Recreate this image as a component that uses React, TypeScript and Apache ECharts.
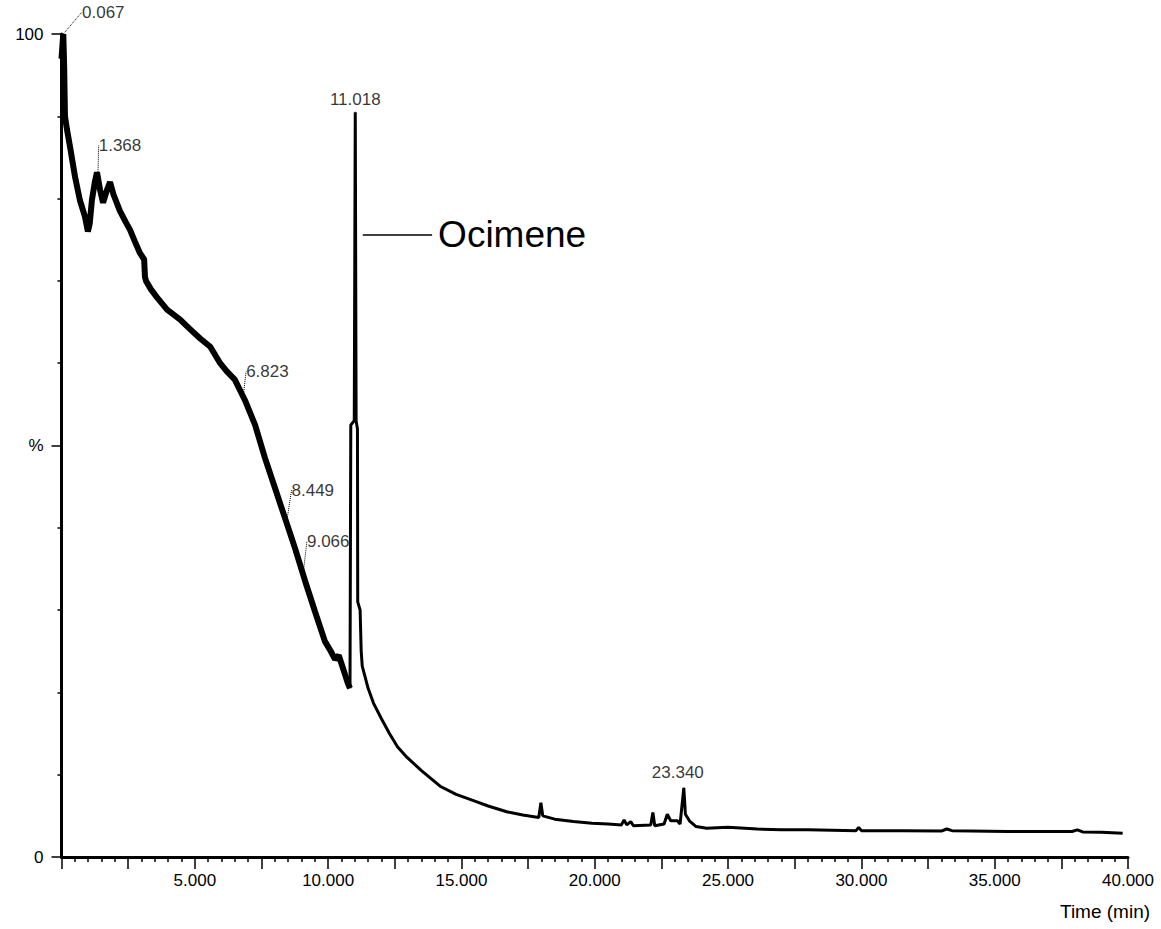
import React, { useEffect, useRef } from "react";
import * as echarts from "echarts";

// Chromatogram trace, early noisy part (time in min, intensity in %)
const earlyTime = [0, 0.067, 0.1, 0.13, 0.2, 0.32, 0.51, 0.69, 0.88, 0.99, 1.06, 1.14, 1.25, 1.33, 1.45, 1.56, 1.7, 1.82, 1.95, 2.19, 2.4, 2.57, 2.75, 2.94, 3.1, 3.13, 3.17, 3.35, 3.58, 3.96, 4.45, 4.8, 5.2, 5.58, 5.95, 6.2, 6.5, 6.88, 7.26, 7.63, 8.01, 8.38, 8.76, 9.13, 9.51, 9.88, 10.1, 10.26, 10.4, 10.52, 10.65, 10.74, 10.82];
const earlyPct = [97, 100, 96, 90, 88.5, 86.3, 82.6, 79.8, 77.8, 76, 77, 79.8, 82, 83.2, 81, 79.5, 81, 82, 80.5, 78.5, 77.2, 76.2, 74.8, 73.4, 72.6, 70.5, 70, 69, 68, 66.5, 65.3, 64.2, 63, 62, 60, 59, 58, 55.5, 52.5, 48.5, 44.8, 41.2, 37.5, 33.6, 29.8, 26.2, 25, 24, 24.5, 23.3, 22, 21.1, 20.5];

// Later part of the trace, from the ocimene peak to the end
const lateTime = [10.82, 10.85, 10.98, 11.018, 11.05, 11.1, 11.11, 11.2, 11.24, 11.28, 11.5, 11.7, 12.0, 12.3, 12.6, 12.96, 13.5, 14.2, 14.8, 15.4, 16.0, 16.7, 17.3, 17.9, 17.98, 18.05, 18.5, 19.2, 19.9, 20.5, 21.0, 21.1, 21.2, 21.35, 21.45, 22.1, 22.18, 22.25, 22.6, 22.72, 22.85, 23.1, 23.2, 23.34, 23.4, 23.55, 23.8, 24.2, 25.0, 26.1, 27.0, 28.0, 29.8, 29.9, 30.0, 31.5, 33.0, 33.2, 33.4, 35.5, 37.9, 38.1, 38.3, 39.0, 39.8];
const latePct = [20.5, 52.5, 53, 90.5, 53, 52, 31, 30, 25, 23.2, 20.5, 18.7, 16.8, 15, 13.4, 12.1, 10.5, 8.6, 7.6, 6.9, 6.2, 5.5, 5.1, 4.8, 6.6, 5.0, 4.6, 4.3, 4.1, 4.0, 3.9, 4.5, 3.9, 4.3, 3.8, 3.9, 5.4, 3.8, 4.0, 5.2, 4.4, 4.4, 4.0, 8.4, 5.2, 4.4, 3.7, 3.5, 3.6, 3.4, 3.3, 3.3, 3.2, 3.6, 3.2, 3.2, 3.15, 3.4, 3.2, 3.1, 3.1, 3.3, 3.05, 3.0, 2.9];

// Peak annotations with leader lines
const leaderPeakTimes = [0.067, 1.368, 6.823, 8.449, 9.066];
const leaderPeakHeights = [100, 83.2, 56.2, 40.8, 34.5];
const leaderPeakLabels = ["0.067", "1.368", "6.823", "8.449", "9.066"];

// Peak annotations without leader lines
const plainPeakTimes = [11.018, 23.34];
const plainPeakHeights = [90.5, 8.4];
const plainPeakLabels = ["11.018", "23.340"];

// Compound annotation
const compoundName = "Ocimene";
const compoundLineFrom = 11.3;
const compoundLineTo = 13.9;
const compoundLineLevel = 75.6;

// Axis ticks
const xTickLabels = ["5.000", "10.000", "15.000", "20.000", "25.000", "30.000", "35.000", "40.000"];
const yTickLabels: Record<number, string> = { 0: "0", 50: "%", 100: "100" };

// Layout (pixel shifts for the annotation labels)
const leaderShift = [[40, -22], [22, -27], [24, -23], [26, -31], [25, -32]];
const plainShift = [[0, -13], [-6, -15]];

const FONT = "'Liberation Sans', Arial, sans-serif";

export default function App() {
  const ref = useRef<HTMLDivElement>(null);
  useEffect(() => {
    if (!ref.current) return;
    const chart = echarts.init(ref.current, null, { renderer: "svg" });
    const early = earlyTime.map((t, i) => [t, earlyPct[i]]);
    const late = lateTime.map((t, i) => [t, latePct[i]]);
    const leaders = leaderPeakTimes.map((t, i) => ({ value: [t, leaderPeakHeights[i]], name: leaderPeakLabels[i] }));
    const plains = plainPeakTimes.map((t, i) => ({ value: [t, plainPeakHeights[i]], name: plainPeakLabels[i] }));
    const xLabelMap: Record<string, string> = {};
    xTickLabels.forEach((s) => {
      xLabelMap[String(parseFloat(s))] = s;
    });

    const axisLineStyle = { color: "#000", width: 3, type: "solid", opacity: 1 };
    const tickStyle = { color: "#000", width: 1.5, type: "solid", opacity: 1 };

    chart.setOption({
      animation: false,
      backgroundColor: "#ffffff",
      grid: { left: 61.5, right: 33, top: 34, bottom: 72, containLabel: false },
      xAxis: {
        type: "value",
        min: 0,
        max: 40,
        interval: 2.5,
        axisLine: { show: true, onZero: false, lineStyle: axisLineStyle },
        axisTick: { show: true, inside: false, length: 12, lineStyle: tickStyle },
        minorTick: { show: true, splitNumber: 5, length: 5, lineStyle: tickStyle },
        splitLine: { show: false },
        axisLabel: {
          margin: 15,
          color: "#000",
          fontFamily: FONT,
          fontSize: 17,
          showMinLabel: false,
          formatter: (v: number) => xLabelMap[String(v)] || "",
        },
      },
      yAxis: {
        type: "value",
        min: 0,
        max: 100,
        interval: 50,
        axisLine: { show: true, onZero: false, lineStyle: axisLineStyle },
        axisTick: { show: true, inside: false, length: 10, lineStyle: tickStyle },
        minorTick: { show: true, splitNumber: 5, length: 4, lineStyle: tickStyle },
        splitLine: { show: false },
        axisLabel: {
          margin: 18,
          color: "#000",
          fontFamily: FONT,
          fontSize: 17,
          formatter: (v: number) => yTickLabels[v] ?? "",
        },
      },
      graphic: [
        {
          type: "text",
          left: 1060,
          top: 902,
          style: { text: "Time (min)", fill: "#000", font: `19px ${FONT}` },
        },
      ],
      series: [
        {
          type: "line",
          data: early,
          symbol: "none",
          lineStyle: { color: "#000", width: 6 },
          z: 3,
        },
        {
          type: "line",
          data: late,
          symbol: "none",
          lineStyle: { color: "#000", width: 3 },
          z: 3,
          markLine: {
            silent: true,
            symbol: "none",
            lineStyle: { color: "#000", width: 1.5, type: "solid" },
            label: {
              show: true,
              position: "end",
              distance: 6,
              formatter: compoundName,
              color: "#000",
              fontFamily: FONT,
              fontSize: 37,
            },
            data: [[{ coord: [compoundLineFrom, compoundLineLevel] }, { coord: [compoundLineTo, compoundLineLevel] }]],
          },
        },
        {
          type: "scatter",
          data: leaders,
          symbolSize: 1,
          itemStyle: { color: "#000" },
          z: 5,
          label: {
            show: true,
            position: "inside",
            formatter: "{b}",
            color: "#000",
            fontFamily: FONT,
            fontSize: 17,
          },
          labelLine: { show: true, lineStyle: { color: "#000", width: 1, type: "dotted" } },
          labelLayout: (p: any) => ({ dx: leaderShift[p.dataIndex][0], dy: leaderShift[p.dataIndex][1] }),
        },
        {
          type: "scatter",
          data: plains,
          symbolSize: 1,
          itemStyle: { color: "#000" },
          z: 5,
          label: {
            show: true,
            position: "inside",
            formatter: "{b}",
            color: "#000",
            fontFamily: FONT,
            fontSize: 17,
          },
          labelLayout: (p: any) => ({ dx: plainShift[p.dataIndex][0], dy: plainShift[p.dataIndex][1] }),
        },
      ],
    });
    return () => chart.dispose();
  }, []);
  return <div ref={ref} style={{ position: "fixed", left: 0, top: 0, width: 1161, height: 929, background: "#fff" }} />;
}
